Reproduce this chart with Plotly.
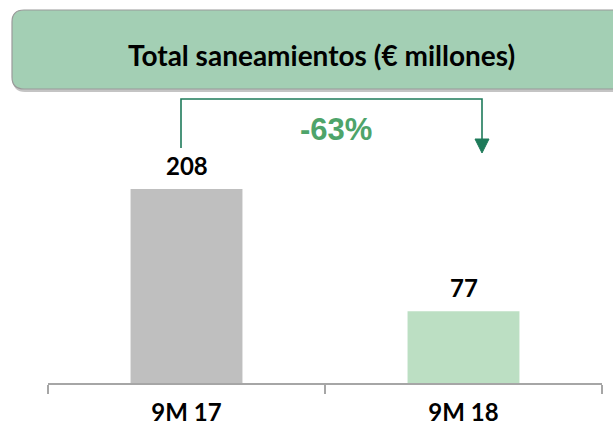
import plotly.graph_objects as go

categories = ["9M 17", "9M 18"]
values = [208, 77]
bar_colors = ["#BFBFBF", "#BCDFC3"]
title_text = "Total saneamientos (€ millones)"
change_text = "-63%"

W, H = 613, 427
L, R, T, B = 48, 11, 100, 44
PW, PH = W - L - R, H - T - B
px_per_unit = 0.933
ymax = PH / px_per_unit


def px(x):
    return (x - L) / PW


def py(y):
    return (H - B - y) / PH


def rrect(x0, y0, x1, y1, r):
    return (f"M {px(x0 + r)},{py(y0)} L {px(x1 - r)},{py(y0)} "
            f"Q {px(x1)},{py(y0)} {px(x1)},{py(y0 + r)} "
            f"L {px(x1)},{py(y1 - r)} Q {px(x1)},{py(y1)} {px(x1 - r)},{py(y1)} "
            f"L {px(x0 + r)},{py(y1)} Q {px(x0)},{py(y1)} {px(x0)},{py(y1 - r)} "
            f"L {px(x0)},{py(y0 + r)} Q {px(x0)},{py(y0)} {px(x0 + r)},{py(y0)} Z")


fig = go.Figure()
fig.add_trace(go.Bar(
    x=categories, y=values,
    marker=dict(color=bar_colors, line=dict(width=0)),
    width=0.404,
    hoverinfo="skip",
))

shapes = []
shapes.append(dict(type="path", xref="paper", yref="paper",
                   path=rrect(13, 12, 640, 92, 12),
                   fillcolor="#C4C4C4", line=dict(width=0), layer="below"))
shapes.append(dict(type="path", xref="paper", yref="paper",
                   path=rrect(12, 10, 638, 89, 12),
                   fillcolor="#A3CFB4", line=dict(color="#9A9A9A", width=1.2), layer="below"))
ac = "#1E7B5A"
shapes.append(dict(type="path", xref="paper", yref="paper",
                   path=f"M {px(181)},{py(148)} L {px(181)},{py(99)} L {px(482)},{py(99)} L {px(482)},{py(141)}",
                   line=dict(color=ac, width=1.6)))
shapes.append(dict(type="path", xref="paper", yref="paper",
                   path=f"M {px(475)},{py(139)} L {px(489)},{py(139)} L {px(482)},{py(153)} Z",
                   fillcolor=ac, line=dict(color=ac, width=1)))

annotations = [
    dict(text=f"<b>{title_text}</b>", x=px(321), y=py(55), xref="paper", yref="paper",
         xanchor="center", yanchor="middle",
         showarrow=False, font=dict(family="Lato", size=28, color="#000000")),
    dict(text=f"<b>{change_text}</b>", x=px(336), y=py(129), xref="paper", yref="paper",
         xanchor="center", yanchor="middle",
         showarrow=False, font=dict(family="Liberation Sans", size=31, color="#4EA46A")),
]
for c, v in zip(categories, values):
    annotations.append(dict(text=f"<b>{v}</b>", x=c, y=v, xref="x", yref="y",
                            xanchor="center", yanchor="bottom", yshift=7, showarrow=False,
                            font=dict(family="Lato", size=24, color="#000000")))

fig.update_layout(
    width=W, height=H,
    margin=dict(l=L, r=R, t=T, b=B),
    paper_bgcolor="white", plot_bgcolor="white",
    showlegend=False,
    shapes=shapes, annotations=annotations,
    xaxis=dict(range=[-0.5, 1.5], showline=True, linecolor="#A6A6A6", linewidth=1.5,
               ticks="outside", tickson="boundaries", ticklen=9, tickcolor="#A6A6A6",
               tickwidth=1.5, showgrid=False, zeroline=False, automargin=False,
               ticklabelstandoff=7,
               tickfont=dict(family="Lato", size=24, color="#000000"),
               tickprefix="<b>", ticksuffix="</b>"),
    yaxis=dict(range=[0, ymax], visible=False, showgrid=False, zeroline=False),
)

fig.write_html("out.html", config={"displayModeBar": False},
               post_script="document.body.style.margin='0';document.body.style.overflow='hidden';")
